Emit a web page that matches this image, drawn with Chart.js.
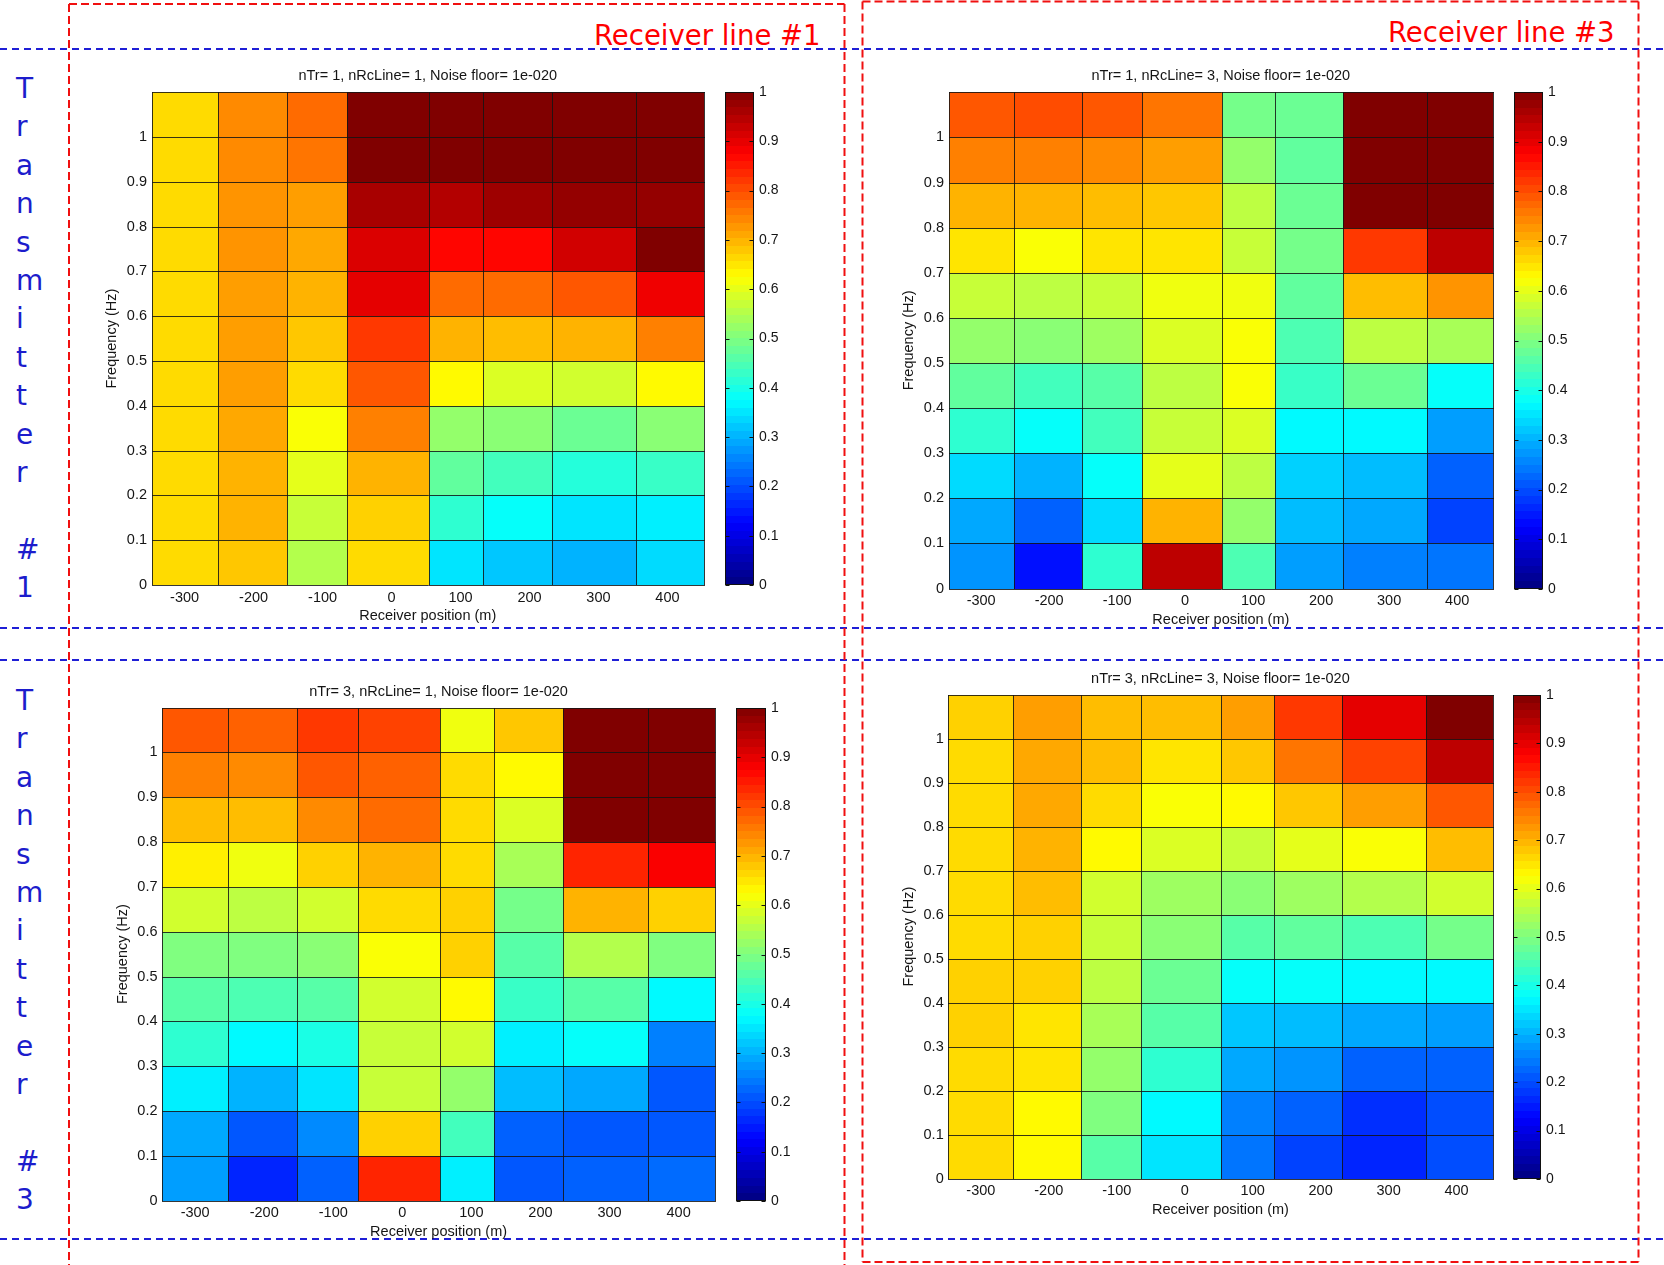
<!DOCTYPE html>
<html><head><meta charset="utf-8">
<script src="https://cdn.jsdelivr.net/npm/chart.js@4.4.1/dist/chart.umd.min.js"></script>
<style>
html,body{margin:0;padding:0;background:#fff;}
body{width:1664px;height:1265px;position:relative;overflow:hidden;}
canvas{position:absolute;}
svg{position:absolute;left:0;top:0;}
.big{position:absolute;font-family:"DejaVu Sans",sans-serif;white-space:nowrap;}
.rx{color:#ff0000;font-size:27.5px;line-height:27.5px;}
.tx{color:#1c1ccc;font-size:28px;line-height:38.4px;left:16px;}
</style></head>
<body>
<svg width="1664" height="1265">
 <g stroke="#1f1fd6" stroke-width="2" stroke-dasharray="7 5" fill="none">
  <line x1="0" y1="49" x2="1664" y2="49"/>
  <line x1="0" y1="628" x2="1664" y2="628"/>
  <line x1="0" y1="660" x2="1664" y2="660"/>
  <line x1="0" y1="1239" x2="1664" y2="1239"/>
 </g>
 <g stroke="#f01010" stroke-width="2" stroke-dasharray="8 4" fill="none">
  <line x1="69" y1="4" x2="69" y2="1265"/>
  <line x1="844.5" y1="4" x2="844.5" y2="1265"/>
  <line x1="69" y1="4" x2="844.5" y2="4"/>
  <line x1="862.5" y1="1.5" x2="862.5" y2="1262"/>
  <line x1="1638.5" y1="1.5" x2="1638.5" y2="1262"/>
  <line x1="862.5" y1="1.5" x2="1638.5" y2="1.5"/>
  <line x1="862.5" y1="1262" x2="1638.5" y2="1262"/>
 </g>
</svg>
<div class="big rx" style="left:594px;top:21.7px">Receiver line #1</div>
<div class="big rx" style="left:1388px;top:18.7px">Receiver line #3</div>
<div class="big tx" style="top:70px">T<br>r<br>a<br>n<br>s<br>m<br>i<br>t<br>t<br>e<br>r<br>&nbsp;<br>#<br>1</div>
<div class="big tx" style="top:682px">T<br>r<br>a<br>n<br>s<br>m<br>i<br>t<br>t<br>e<br>r<br>&nbsp;<br>#<br>3</div>
<script>
// ---------- data ----------
const receiverEdges = [-348, -252, -152, -64, 54, 132, 232, 355, 453];
const freqEdges = [0, 0.1, 0.2, 0.3, 0.4, 0.5, 0.6, 0.7, 0.8, 0.9, 1.0, 1.1];
const xTickValues = [-300, -200, -100, 0, 100, 200, 300, 400];
const xTickLabels = ['-300', '-200', '-100', '0', '100', '200', '300', '400'];
const yTickValues = [0, 0.1, 0.2, 0.3, 0.4, 0.5, 0.6, 0.7, 0.8, 0.9, 1];
const yTickLabels = ['0', '0.1', '0.2', '0.3', '0.4', '0.5', '0.6', '0.7', '0.8', '0.9', '1'];
const cbTickValues = [0, 0.1, 0.2, 0.3, 0.4, 0.5, 0.6, 0.7, 0.8, 0.9, 1];
const cbTickLabels = ['0', '0.1', '0.2', '0.3', '0.4', '0.5', '0.6', '0.7', '0.8', '0.9', '1'];
const panelTitles = [
  'nTr= 1, nRcLine= 1, Noise floor= 1e-020',
  'nTr= 1, nRcLine= 3, Noise floor= 1e-020',
  'nTr= 3, nRcLine= 1, Noise floor= 1e-020',
  'nTr= 3, nRcLine= 3, Noise floor= 1e-020'
];
const xAxisTitle = 'Receiver position (m)';
const yAxisTitle = 'Frequency (Hz)';

// rows: top band (1.0-1.1 Hz) first, down to bottom band (0-0.1 Hz)
const tx1_rx1 = [
  [0.66, 0.74, 0.77, 1.00, 1.00, 1.00, 1.00, 1.00],
  [0.66, 0.74, 0.76, 1.00, 1.00, 1.00, 1.00, 1.00],
  [0.66, 0.73, 0.72, 0.96, 0.95, 0.97, 0.98, 0.98],
  [0.66, 0.73, 0.71, 0.91, 0.87, 0.87, 0.92, 1.00],
  [0.66, 0.72, 0.70, 0.90, 0.77, 0.77, 0.79, 0.89],
  [0.66, 0.72, 0.68, 0.82, 0.70, 0.69, 0.70, 0.75],
  [0.66, 0.72, 0.66, 0.79, 0.63, 0.59, 0.58, 0.63],
  [0.66, 0.71, 0.62, 0.75, 0.52, 0.51, 0.48, 0.51],
  [0.66, 0.70, 0.60, 0.70, 0.47, 0.44, 0.41, 0.43],
  [0.66, 0.70, 0.57, 0.67, 0.42, 0.38, 0.35, 0.36],
  [0.66, 0.68, 0.55, 0.66, 0.35, 0.32, 0.30, 0.34]
];
const tx1_rx3 = [
  [0.79, 0.80, 0.79, 0.76, 0.49, 0.48, 1.00, 1.00],
  [0.75, 0.75, 0.74, 0.72, 0.52, 0.47, 1.00, 1.00],
  [0.70, 0.70, 0.69, 0.68, 0.56, 0.48, 1.00, 1.00],
  [0.65, 0.62, 0.65, 0.65, 0.57, 0.49, 0.82, 0.94],
  [0.57, 0.56, 0.57, 0.61, 0.61, 0.47, 0.69, 0.73],
  [0.52, 0.51, 0.53, 0.59, 0.62, 0.45, 0.56, 0.54],
  [0.47, 0.44, 0.46, 0.56, 0.62, 0.43, 0.48, 0.38],
  [0.42, 0.38, 0.44, 0.57, 0.59, 0.37, 0.37, 0.28],
  [0.34, 0.30, 0.38, 0.60, 0.56, 0.33, 0.31, 0.22],
  [0.29, 0.22, 0.34, 0.70, 0.52, 0.31, 0.29, 0.19],
  [0.27, 0.14, 0.42, 0.94, 0.45, 0.28, 0.25, 0.24]
];
const tx3_rx1 = [
  [0.79, 0.78, 0.82, 0.81, 0.61, 0.68, 1.00, 1.00],
  [0.75, 0.74, 0.79, 0.78, 0.66, 0.63, 1.00, 1.00],
  [0.69, 0.69, 0.74, 0.77, 0.66, 0.59, 1.00, 1.00],
  [0.64, 0.61, 0.67, 0.70, 0.66, 0.54, 0.84, 0.88],
  [0.58, 0.56, 0.58, 0.66, 0.67, 0.49, 0.70, 0.67],
  [0.50, 0.50, 0.51, 0.62, 0.67, 0.46, 0.55, 0.50],
  [0.46, 0.45, 0.46, 0.58, 0.63, 0.43, 0.46, 0.37],
  [0.42, 0.37, 0.40, 0.57, 0.58, 0.36, 0.38, 0.25],
  [0.36, 0.30, 0.35, 0.57, 0.52, 0.31, 0.29, 0.21],
  [0.29, 0.21, 0.26, 0.67, 0.44, 0.22, 0.21, 0.21],
  [0.28, 0.16, 0.22, 0.84, 0.36, 0.21, 0.22, 0.23]
];
const tx3_rx3 = [
  [0.67, 0.72, 0.69, 0.69, 0.72, 0.82, 0.90, 1.00],
  [0.66, 0.71, 0.69, 0.65, 0.68, 0.76, 0.81, 0.94],
  [0.66, 0.71, 0.66, 0.62, 0.63, 0.68, 0.72, 0.79],
  [0.66, 0.70, 0.63, 0.59, 0.57, 0.60, 0.62, 0.69],
  [0.66, 0.69, 0.58, 0.53, 0.51, 0.53, 0.55, 0.58],
  [0.66, 0.67, 0.57, 0.51, 0.46, 0.47, 0.45, 0.49],
  [0.67, 0.67, 0.56, 0.48, 0.38, 0.38, 0.37, 0.37],
  [0.67, 0.65, 0.54, 0.46, 0.32, 0.31, 0.29, 0.28],
  [0.66, 0.65, 0.52, 0.42, 0.29, 0.27, 0.22, 0.22],
  [0.66, 0.63, 0.50, 0.37, 0.25, 0.22, 0.17, 0.20],
  [0.66, 0.63, 0.46, 0.35, 0.24, 0.19, 0.16, 0.20]
];

// ---------- helpers ----------
function jet(v) {
  const c = t => Math.round(255 * Math.max(0, Math.min(1, 1.5 - Math.abs(4 * v - t))));
  return 'rgb(' + c(3) + ',' + c(2) + ',' + c(1) + ')';
}
const FONT = '"Liberation Sans", Arial, sans-serif';
const TXT = '#151515';

function cellsFrom(rows) {
  const out = [];
  const nRows = rows.length;
  rows.forEach((row, r) => {
    const lo = freqEdges[nRows - 1 - r], hi = freqEdges[nRows - r];
    row.forEach((v, c) => {
      const x0 = receiverEdges[c], x1 = receiverEdges[c + 1];
      out.push({x: (x0 + x1) / 2, y: (lo + hi) / 2, x0, x1, y0: lo, y1: hi, v});
    });
  });
  return out;
}

const heatPlugin = {
  id: 'heat',
  beforeDatasetsDraw(chart) {
    const {ctx, chartArea: a, scales: {x, y}} = chart;
    ctx.save();
    for (const c of chart.data.datasets[0].data) {
      const px0 = Math.round(x.getPixelForValue(c.x0)), px1 = Math.round(x.getPixelForValue(c.x1));
      const py0 = Math.round(y.getPixelForValue(c.y0)), py1 = Math.round(y.getPixelForValue(c.y1));
      ctx.fillStyle = jet(c.v);
      ctx.fillRect(px0, py1, px1 - px0, py0 - py1);
    }
    ctx.strokeStyle = 'rgba(20,20,20,0.85)';
    ctx.lineWidth = 1;
    ctx.beginPath();
    for (const e of receiverEdges) {
      const p = Math.round(x.getPixelForValue(e)) + 0.5;
      ctx.moveTo(p, Math.round(a.top)); ctx.lineTo(p, Math.round(a.bottom));
    }
    for (const e of freqEdges) {
      const p = Math.round(y.getPixelForValue(e)) + 0.5;
      ctx.moveTo(Math.round(a.left), p); ctx.lineTo(Math.round(a.right) + 1, p);
    }
    ctx.stroke();
    ctx.restore();
  }
};

const cbPlugin = {
  id: 'cbframe',
  afterDraw(chart) {
    const {ctx, chartArea: a, scales: {y}} = chart;
    ctx.save();
    ctx.strokeStyle = '#111';
    ctx.lineWidth = 1;
    const L = Math.round(a.left) + 0.5, R = Math.round(a.right) - 0.5;
    const T = Math.round(a.top) + 0.5, B = Math.round(a.bottom) - 0.5;
    ctx.strokeRect(L, T, R - L, B - T);
    ctx.beginPath();
    for (const v of cbTickValues) {
      const p = Math.round(y.getPixelForValue(v)) + 0.5;
      ctx.moveTo(R - 4, p); ctx.lineTo(R, p);
      ctx.moveTo(L, p); ctx.lineTo(L + 4, p);
    }
    ctx.stroke();
    ctx.restore();
  }
};

function addCanvas(left, top, w, h) {
  const c = document.createElement('canvas');
  c.width = w; c.height = h;
  c.style.left = left + 'px'; c.style.top = top + 'px';
  c.style.width = w + 'px'; c.style.height = h + 'px';
  document.body.appendChild(c);
  return c;
}

function makeHeat(p) {
  const Y_W = 48, X_H = 40, LH = 17.4;
  const cx = Math.floor(p.plot.l - Y_W - 8);
  const cy = Math.floor(p.titleY - LH / 2 - 6);
  const w = Math.ceil(p.plot.r + 10 - cx);
  const h = Math.ceil(p.plot.b + X_H + 6 - cy);
  const padL = p.plot.l - cx - Y_W;
  const padR = w - (p.plot.r - cx);
  const padB = h - X_H - (p.plot.b - cy);
  const tPadTop = (p.titleY - cy) - LH / 2;
  const tPadBot = (p.plot.t - cy) - tPadTop - LH;
  const canvas = addCanvas(cx, cy, w, h);
  const tickFont = {family: FONT, size: 14.5, lineHeight: 1.2};
  return new Chart(canvas, {
    type: 'scatter',
    data: {datasets: [{data: cellsFrom(p.values), pointRadius: 0, pointHoverRadius: 0}]},
    options: {
      responsive: false, animation: false, devicePixelRatio: 1,
      events: [],
      layout: {padding: {left: padL, right: padR, top: 0, bottom: padB}},
      plugins: {
        legend: {display: false}, tooltip: {enabled: false},
        title: {display: true, fullSize: false, text: p.title, color: TXT,
          font: {family: FONT, size: 14.5, weight: 'normal', lineHeight: 1.2},
          padding: {top: tPadTop, bottom: tPadBot}}
      },
      scales: {
        x: {
          type: 'linear', min: receiverEdges[0], max: receiverEdges[receiverEdges.length - 1],
          afterBuildTicks: s => { s.ticks = xTickValues.map(v => ({value: v})); },
          afterFit: s => { s.height = X_H; },
          grid: {display: false, drawTicks: false}, border: {display: false},
          ticks: {autoSkip: false, maxRotation: 0, padding: 4, color: TXT, font: tickFont,
            callback: (v, i) => xTickLabels[i]},
          title: {display: true, text: xAxisTitle, color: TXT, font: tickFont, padding: 0}
        },
        y: {
          type: 'linear', min: freqEdges[0], max: freqEdges[freqEdges.length - 1],
          afterBuildTicks: s => { s.ticks = yTickValues.map(v => ({value: v})); },
          afterFit: s => { s.width = Y_W; },
          grid: {display: false, drawTicks: false}, border: {display: false},
          ticks: {autoSkip: false, padding: 4.5, color: TXT, font: tickFont,
            callback: (v, i) => yTickLabels[i]},
          title: {display: true, text: yAxisTitle, color: TXT, font: tickFont, padding: 0}
        }
      }
    },
    plugins: [heatPlugin]
  });
}

function makeColorbar(p) {
  const AW = 40;
  const top = Math.round(p.plot.t), bottom = Math.round(p.plot.b);
  const cbl = Math.round(p.cb.l), cbr = Math.round(p.cb.r);
  const cx = cbl - 2;
  const cy = top - 22;
  const w = cbr - cx + AW;
  const h = bottom - cy + 22;
  const canvas = addCanvas(cx, cy, w, h);
  return new Chart(canvas, {
    type: 'bar',
    data: {labels: [''], datasets: [{
      data: [[cbTickValues[0], cbTickValues[cbTickValues.length - 1]]],
      borderWidth: 0, barPercentage: 1, categoryPercentage: 1,
      backgroundColor: (ctx) => {
        const a = ctx.chart.chartArea;
        if (!a) return 'rgba(0,0,0,0)';
        const g = ctx.chart.ctx.createLinearGradient(0, a.bottom, 0, a.top);
        for (let i = 0; i < 64; i++) {
          const col = jet((i + 0.5) / 64);
          g.addColorStop(i / 64, col);
          g.addColorStop((i + 1) / 64, col);
        }
        return g;
      }
    }]},
    options: {
      responsive: false, animation: false, devicePixelRatio: 1, events: [],
      layout: {padding: {left: 2, right: 0, top: 22, bottom: 22}},
      plugins: {legend: {display: false}, tooltip: {enabled: false}, title: {display: false}},
      scales: {
        x: {display: false},
        y: {
          position: 'right', min: 0, max: 1,
          afterBuildTicks: s => { s.ticks = cbTickValues.map(v => ({value: v})); },
          afterFit: s => { s.width = AW; },
          grid: {display: false, drawTicks: false}, border: {display: false},
          ticks: {autoSkip: false, padding: 5, color: TXT, font: {family: FONT, size: 14},
            callback: (v, i) => cbTickLabels[i]}
        }
      }
    },
    plugins: [cbPlugin]
  });
}

const panels = [
  {title: panelTitles[0], values: tx1_rx1, plot: {l: 151.5, r: 704, t: 92.3, b: 585}, titleY: 76.3, cb: {l: 725, r: 754}},
  {title: panelTitles[1], values: tx1_rx3, plot: {l: 948.5, r: 1493.2, t: 92.3, b: 588.5}, titleY: 76.3, cb: {l: 1514.4, r: 1542.5}},
  {title: panelTitles[2], values: tx3_rx1, plot: {l: 162, r: 715.2, t: 707.5, b: 1200.7}, titleY: 691.6, cb: {l: 736, r: 765.7}},
  {title: panelTitles[3], values: tx3_rx3, plot: {l: 948.2, r: 1492.6, t: 694.5, b: 1178.7}, titleY: 678.6, cb: {l: 1513.3, r: 1541}}
];
panels.forEach(p => { makeHeat(p); makeColorbar(p); });
</script>
</body></html>
